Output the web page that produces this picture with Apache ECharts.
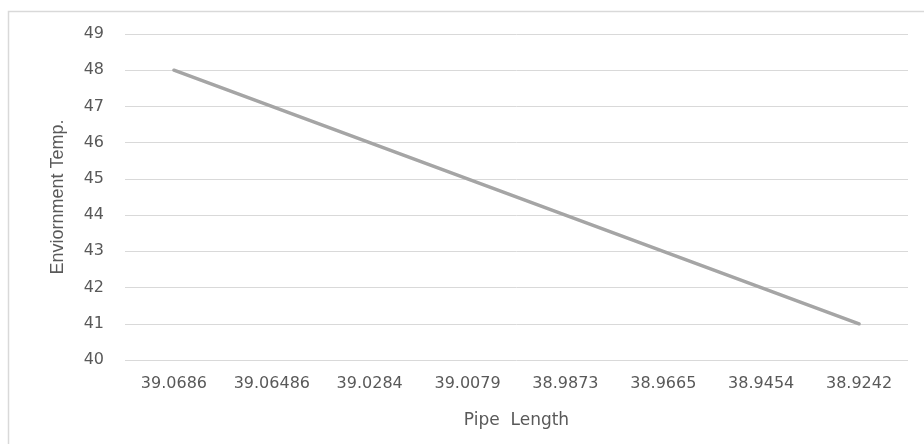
<!DOCTYPE html>
<html><head><meta charset="utf-8">
<script src="https://cdn.jsdelivr.net/npm/echarts@6/dist/echarts.min.js"></script>
<style>html,body{margin:0;padding:0;background:#fff}#c{width:924px;height:444px}</style>
</head><body><div id="c"></div>
<script>
var categories = ['39.0686','39.06486','39.0284','39.0079','38.9873','38.9665','38.9454','38.9242'];
var temps = [48,47,46,45,44,43,42,41];
var yTicks = {min:40, max:49, interval:1};

var chart = echarts.init(document.getElementById('c'));
chart.setOption({
  animation:false,
  backgroundColor:'#fff',
  graphic:[{type:'rect',shape:{x:8.5,y:11.5,width:930,height:450},style:{fill:'none',stroke:'#d9d9d9',lineWidth:1.5},silent:true}],
  grid:{left:125,right:16,top:34,bottom:84},
  xAxis:{type:'category',data:categories,boundaryGap:true,
    name:'Pipe  Length',nameLocation:'middle',nameGap:52,
    nameTextStyle:{color:'#595959',fontSize:17,fontFamily:'DejaVu Sans'},
    axisLine:{show:false},axisTick:{show:false},
    axisLabel:{color:'#595959',fontSize:16,fontFamily:'DejaVu Sans',margin:16,interval:0}},
  yAxis:{type:'value',min:yTicks.min,max:yTicks.max,interval:yTicks.interval,
    name:'Enviornment Temp.',nameLocation:'middle',nameGap:58,nameRotate:90,
    nameTextStyle:{color:'#595959',fontSize:18,fontFamily:'Liberation Sans Narrow, Arial Narrow, sans-serif'},
    axisLine:{show:false},axisTick:{show:false},
    splitLine:{lineStyle:{color:'#d9d9d9',width:1}},
    axisLabel:{color:'#595959',fontSize:16,fontFamily:'DejaVu Sans',margin:21}},
  series:[{type:'line',data:temps,symbol:'none',lineStyle:{color:'#a5a5a5',width:3.5,cap:'round'}}]
});
</script></body></html>
